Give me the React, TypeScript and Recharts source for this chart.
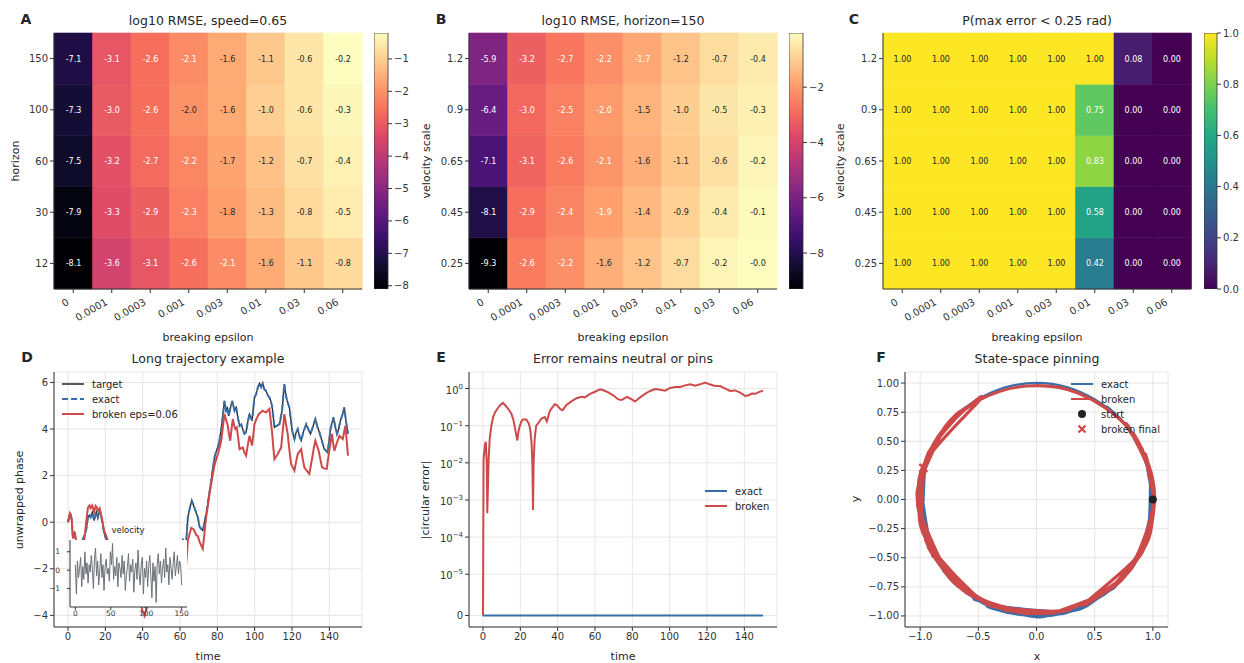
import React from "react";
import {
  Bar, BarChart, CartesianGrid, Cell, ComposedChart, LabelList, Line, LineChart, Scatter, XAxis, YAxis,
} from "recharts";

const FONT = "'DejaVu Sans', sans-serif";
const INK = "#262626";
const AXIS = "#333333";
const GRID = "#e6e6e6";
const BLUE = "#3a6ea8";
const RED = "#cd4a4a";
const GRAY = "#6b7078";

// heatmap axes
const epsLabels = ["0", "0.0001", "0.0003", "0.001", "0.003", "0.01", "0.03", "0.06"];
const horizonLabels = ["150", "100", "60", "30", "12"]; // top -> bottom
const velScaleLabels = ["1.2", "0.9", "0.65", "0.45", "0.25"]; // top -> bottom

// A: log10 RMSE, speed=0.65 (rows top -> bottom)
const rmseBySpeed = [
  [-7.1, -3.1, -2.6, -2.1, -1.6, -1.1, -0.6, -0.2],
  [-7.3, -3.0, -2.6, -2.0, -1.6, -1.0, -0.6, -0.3],
  [-7.5, -3.2, -2.7, -2.2, -1.7, -1.2, -0.7, -0.4],
  [-7.9, -3.3, -2.9, -2.3, -1.8, -1.3, -0.8, -0.5],
  [-8.1, -3.6, -3.1, -2.6, -2.1, -1.6, -1.1, -0.8],
];
// B: log10 RMSE, horizon=150
const rmseByHorizon = [
  [-5.9, -3.2, -2.7, -2.2, -1.7, -1.2, -0.7, -0.4],
  [-6.4, -3.0, -2.5, -2.0, -1.5, -1.0, -0.5, -0.3],
  [-7.1, -3.1, -2.6, -2.1, -1.6, -1.1, -0.6, -0.2],
  [-8.1, -2.9, -2.4, -1.9, -1.4, -0.9, -0.4, -0.1],
  [-9.3, -2.6, -2.2, -1.6, -1.2, -0.7, -0.2, -0.04],
];
// C: P(max error < 0.25 rad)
const pinProb = [
  [1, 1, 1, 1, 1, 1.0, 0.08, 0.0],
  [1, 1, 1, 1, 1, 0.75, 0.0, 0.0],
  [1, 1, 1, 1, 1, 0.83, 0.0, 0.0],
  [1, 1, 1, 1, 1, 0.58, 0.0, 0.0],
  [1, 1, 1, 1, 1, 0.42, 0.0, 0.0],
];

// D: unwrapped phase [time, value]
const targetPhase: [number, number][] = [
  [0, 0], [1, 0.36], [1.5, 0.3], [2, 0.1], [2.3, -0.3], [2.7, -0.68], [3.6, -0.49], [4.5, -0.85], [5.4, -1.15],
  [6.5, -1.35], [7.2, -1.05], [8, -0.71], [8.9, -0.55], [9.8, -0.3], [10.7, 0.22], [11.5, 0.3], [12.1, 0.21],
  [13, 0.43], [13.4, 0.3], [14, 0.07], [14.8, 0.35], [15.2, 0.45], [16, 0.2], [17, 0.5], [18.2, 0.1],
  [19.3, -0.45], [20.5, -0.75], [22, -1.1], [24, -1.5], [26, -1.3], [26.8, -1.4], [28, -1.9], [30, -2.2],
  [32, -1.9], [34, -2.4], [36, -2.7], [38, -2.9], [40, -3.45], [41, -3.6], [42.6, -3.3], [44.7, -2.7],
  [47.4, -2.6], [50.1, -2.2], [52.8, -1.8], [55, -2.0], [57.3, -1.3], [60, -1.0], [61.5, -0.75], [62.5, -0.85],
  [63.3, -0.8], [63.8, -0.3], [64.2, 0.21], [65.3, 0.62], [66.3, 0.92], [67.3, 0.72], [68.5, 0.45], [69.6, 0.2],
  [70.5, -0.2], [71.4, -0.3], [72.2, -0.36], [73.1, 0.0], [74, 0.35], [74.9, 0.79], [75.8, 1.3], [76.7, 1.79],
  [77.6, 2.3], [78.5, 2.79], [79.4, 3.05], [80.3, 3.21], [81.2, 3.55], [82.1, 4.0], [83, 4.6], [83.4, 4.9],
  [83.8, 5.21], [84.7, 4.79], [85.4, 4.9], [86.1, 4.57], [87, 4.9], [88, 5.21], [89.2, 4.79], [90.1, 4.93],
  [91, 4.5], [91.9, 4.14], [92.8, 4.2], [93.6, 4.0], [94.5, 3.8], [95.4, 3.86], [96.3, 4.3], [97.2, 4.64],
  [98.6, 4.36], [99.2, 4.85], [99.9, 5.36], [100.8, 5.5], [101.7, 5.79], [102.6, 5.96], [103.5, 5.8],
  [104.3, 5.96], [105.2, 5.7], [106.1, 5.64], [107, 5.45], [107.9, 5.36], [108.7, 5.2], [109.4, 4.93],
  [110, 4.5], [110.6, 4.07], [112, 4.15], [113.3, 4.21], [114.7, 4.79], [115.3, 5.4], [115.9, 5.93],
  [116.6, 5.5], [117.4, 5.21], [118.6, 4.93], [119.4, 4.4], [120.1, 3.93], [121.3, 3.57], [122.2, 3.85],
  [123.1, 4.0], [124, 3.7], [124.9, 3.5], [126.2, 3.9], [127.6, 4.21], [128.7, 4.0], [129.9, 3.79],
  [131.2, 4.1], [132.5, 4.43], [133.6, 4.1], [134.7, 3.86], [136, 3.5], [137.3, 3.14], [139.1, 3.0],
  [139.9, 3.5], [140.6, 4.0], [142.2, 4.5], [143.2, 4.1], [144.1, 3.79], [145, 4.0], [145.9, 4.36], [147, 4.6],
  [148, 4.93], [149, 4.3], [150, 3.79],
];
// the exact model tracks the target to numerical precision
const exactPhase = targetPhase;
const brokenPhase: [number, number][] = [
  [0, 0], [1, 0.39], [1.5, 0.33], [2, 0.1], [2.3, -0.3], [2.7, -0.7], [3.6, -0.45], [4.5, -0.9], [5.4, -1.3],
  [6.5, -1.6], [7.2, -1.35], [8, -1.03], [8.9, -0.64], [9.8, 0.05], [10.7, 0.64], [11.5, 0.72], [12.1, 0.6],
  [13, 0.72], [13.4, 0.6], [14, 0.45], [14.8, 0.7], [15.2, 0.66], [16, 0.5], [17, 0.6], [18.2, 0.14],
  [19.3, -0.36], [20.5, -0.6], [22, -0.95], [24, -1.38], [26, -1.26], [26.8, -1.4], [28, -1.95], [30, -2.32],
  [32, -2.06], [34, -2.55], [36, -2.97], [38, -3.28], [40, -3.82], [41, -4.02], [42.6, -3.56], [44.7, -3.1],
  [47.4, -3.09], [50.1, -2.8], [52.8, -2.42], [55, -2.65], [57.3, -2.07], [60, -1.87], [61.5, -1.7],
  [62.5, -1.8], [63.3, -1.79], [63.8, -1.3], [64.2, -0.79], [65, -0.55], [66, -0.25], [67.3, -0.3],
  [68.7, -0.55], [69.6, -0.6], [70.5, -0.85], [71.4, -1.0], [72.2, -1.14], [73.1, -0.5], [73.5, -0.15],
  [74, 0.21], [74.9, 0.7], [75.8, 1.21], [76.7, 1.65], [77.6, 2.07], [78.5, 2.45], [79.4, 2.7], [80.3, 2.93],
  [81.2, 3.2], [82.1, 3.5], [83, 4.1], [83.8, 4.64], [84.7, 4.4], [85.6, 4.14], [86.3, 3.75], [86.9, 3.5],
  [87.6, 4.0], [88.3, 4.43], [89, 4.15], [89.7, 4.0], [90.4, 4.07], [91.2, 3.6], [91.9, 3.14], [93.6, 3.21],
  [94.5, 3.0], [95.4, 2.86], [96.3, 3.3], [97.2, 3.71], [98.6, 3.29], [99.3, 3.75], [99.9, 4.21], [101, 4.45],
  [102.2, 4.64], [104.3, 4.79], [106.1, 4.71], [107.9, 4.86], [108.7, 4.3], [109.4, 3.79], [110, 3.2],
  [110.6, 2.71], [112.4, 2.93], [114.2, 3.21], [115, 3.9], [115.5, 4.3], [115.9, 4.64], [116.8, 4.2],
  [117.7, 3.79], [118.6, 3.1], [119.5, 2.5], [121.3, 2.21], [122.2, 2.6], [123.1, 2.93], [124.9, 3.14],
  [125.8, 2.7], [126.6, 2.36], [128, 2.2], [129.3, 2.07], [130.9, 2.8], [131.7, 3.2], [132.5, 3.5],
  [134.3, 3.07], [135.2, 2.7], [136.1, 2.36], [137.4, 2.3], [138.6, 2.29], [139.3, 2.7], [140, 3.07],
  [140.7, 3.45], [141.4, 3.79], [142, 3.4], [142.7, 3.07], [144, 3.4], [145.4, 3.71], [147.2, 3.57],
  [148.6, 4.14], [149.3, 3.5], [150, 2.86],
];

// D inset: velocity, one sample every 1.5 time units
const velocityStep = 1.5;
const velocity = [
  0.3, -1.3, 0.5, -0.4, 0.1, 0.7, -0.9, 0.2, -0.5, 1.0,
  -0.2, 0.4, -0.7, 0.3, -0.1, 0.8, 0.1, -1.0, 0.6, 1.2,
  -0.3, 0.5, -0.8, 0.0, 0.9, -0.4, 0.3, -1.1, 0.2, 0.6,
  -0.2, 0.1, -0.6, 1.0, 0.3, 1.45, -0.5, 0.2, -0.3, 0.7,
  -0.9, 0.4, 0.1, -0.4, 0.8, -0.2, 0.5, -1.1, -0.3, 0.2,
  0.9, -0.6, 0.3, -0.1, 0.6, -1.2, 0.0, 0.4, -0.5, 1.1,
  -0.2, -0.8, 0.3, 0.7, -1.3, 0.1, -0.4, 0.5, -0.9, 0.2,
  0.8, -0.3, -1.5, 0.4, -0.6, 0.2, -1.75, 0.3, 0.9, -0.2,
  0.5, -0.7, 0.1, 0.6, -0.4, 1.2, -0.1, 0.3, -0.8, 0.7,
  0.1, -0.5, 0.4, 1.0, -0.3, 0.2, 0.8, -0.2, 0.5, 0.3, -0.8,
];

// E: |circular error| [time, value]
const exactError: [number, number][] = [[0, 0], [30, 0], [60, 0], [90, 0], [120, 0], [150, 0]];
const brokenError: [number, number][] = [
  [0, 0], [0.3, 0.012], [1, 0.03], [1.5, 0.037], [2, 0.01], [2.3, 4.4e-4], [3, 0.012], [3.6, 0.045], [4.5, 0.1],
  [5.4, 0.17], [6.5, 0.23], [8, 0.3], [9.5, 0.37], [10.7, 0.41], [12, 0.35], [13.4, 0.29], [15.2, 0.21],
  [16.2, 0.15], [17, 0.093], [18.4, 0.04], [19, 0.07], [19.6, 0.093], [20.5, 0.13], [21.4, 0.147],
  [23.2, 0.147], [24.5, 0.115], [25.3, 0.08], [26, 0.035], [26.5, 0.008], [26.8, 5.4e-4], [27.1, 0.01],
  [27.7, 0.045], [28.5, 0.1], [29.5, 0.115], [31.3, 0.156], [33.1, 0.17], [34.2, 0.13], [35.8, 0.25],
  [38.4, 0.38], [39.5, 0.36], [41.5, 0.28], [42.6, 0.26], [44.7, 0.36], [47.4, 0.45], [50.1, 0.55],
  [52.8, 0.6], [54.6, 0.58], [57.3, 0.72], [60, 0.82], [62.7, 0.96], [64.5, 0.9], [67.1, 0.79], [69.8, 0.66],
  [72.5, 0.51], [74.3, 0.49], [77, 0.6], [78.8, 0.54], [81.5, 0.45], [84.2, 0.58], [86.8, 0.72], [89.5, 0.86],
  [92.2, 0.97], [94.9, 0.93], [97.6, 0.88], [100.2, 1.04], [102.9, 1.1], [105.6, 1.1], [108.3, 1.22],
  [111, 1.3], [113.6, 1.2], [116.3, 1.3], [119, 1.45], [121.7, 1.28], [124.4, 1.17], [127.1, 1.17],
  [129.8, 1.0], [132.4, 0.86], [135.1, 0.89], [137.8, 0.78], [140.5, 0.63], [142.3, 0.66], [144.1, 0.73],
  [145.9, 0.72], [147.7, 0.8], [150, 0.88],
];

// F: broken state drifts off the unit circle slightly (x, y stretch)
const brokenRing = [1.012, 0.978];

const MAGMA = ["#000004", "#140e36", "#3b0f70", "#641a80", "#8c2981", "#b73779", "#de4968", "#f7705c", "#fe9f6d", "#fecf92", "#fcfdbf"];
const VIRIDIS = ["#440154", "#482475", "#414487", "#355f8d", "#2a788e", "#21918c", "#22a884", "#44bf70", "#7ad151", "#bddf26", "#fde725"];

function mapColor(stops: string[], t: number) {
  const u = Math.max(0, Math.min(1, t)) * (stops.length - 1);
  const i = Math.min(stops.length - 2, Math.floor(u));
  const f = u - i;
  const a = stops[i], b = stops[i + 1];
  const ch = (s: string, k: number) => parseInt(s.slice(1 + 2 * k, 3 + 2 * k), 16);
  const out = [0, 1, 2].map((k) => Math.round(ch(a, k) + (ch(b, k) - ch(a, k)) * f));
  return `rgb(${out.join(",")})`;
}

// smooth Catmull-Rom path through the points (used for the state-space trajectories)
function catmullRom(context: any) {
  let pts: number[][] = [];
  return {
    areaStart() {}, areaEnd() {},
    lineStart() { pts = []; },
    point(x: number, y: number) { pts.push([+x, +y]); },
    lineEnd() {
      if (!pts.length) return;
      context.moveTo(pts[0][0], pts[0][1]);
      for (let i = 0; i < pts.length - 1; i++) {
        const p0 = pts[i - 1] || pts[i], p1 = pts[i], p2 = pts[i + 1], p3 = pts[i + 2] || pts[i + 1];
        context.bezierCurveTo(
          p1[0] + (p2[0] - p0[0]) / 6, p1[1] + (p2[1] - p0[1]) / 6,
          p2[0] - (p3[0] - p1[0]) / 6, p2[1] - (p3[1] - p1[1]) / 6,
          p2[0], p2[1],
        );
      }
    },
  };
}

const minus = (s: string) => s.replace(/-/g, "\u2212");
const tickStyle = { fontSize: 10, fill: AXIS };

function Txt({ x, y, size = 11, bold, rotate, children }: any) {
  return (
    <div style={{
      position: "absolute", left: x, top: y, fontSize: size, fontWeight: bold ? "bold" : "normal", color: INK,
      whiteSpace: "nowrap", lineHeight: 1, transform: `translate(-50%, -50%)${rotate ? ` rotate(${rotate}deg)` : ""}`,
    }}>{children}</div>
  );
}

function EpsTick(props: any) {
  const { x, y, payload } = props;
  return (
    <g transform={`translate(${x - 3.5},${y + 9}) rotate(-30)`}>
      <text textAnchor="end" fontSize={10} fill={AXIS}>{payload.value}</text>
    </g>
  );
}

function Heatmap({ left, width, yw, values, rowLabels, cmap, vmin, vmax, white, digits }: any) {
  const n = rowLabels.length;
  const rows = Array.from({ length: n }, (_, r) => r); // r = 0 is the bottom row
  const data = epsLabels.map((eps, c) => {
    const d: any = { eps };
    rows.forEach((r) => { d[`r${r}`] = 1; d[`v${r}`] = values[n - 1 - r][c]; });
    return d;
  });
  const color = (v: number) => mapColor(cmap, (v - vmin) / (vmax - vmin));
  const label = (p: any) => {
    const vb = p.viewBox || p;
    const v = Number(p.value);
    return (
      <text x={vb.x + vb.width / 2} y={vb.y + vb.height / 2} dy={3} textAnchor="middle" fontSize={8}
        fill={white(v) ? "#ffffff" : INK}>{v.toFixed(digits)}</text>
    );
  };
  return (
    <div style={{ position: "absolute", left, top: 0 }}>
      <BarChart width={width} height={345} data={data} margin={{ top: 33, right: 10, bottom: 0, left: 0 }}
        barCategoryGap={0} barGap={0}>
        <XAxis dataKey="eps" height={56} interval={0} tick={<EpsTick />} tickSize={4}
          tickLine={{ stroke: AXIS }} axisLine={{ stroke: AXIS }} />
        <YAxis type="number" domain={[0, n]} ticks={rows.map((r) => r + 0.5)} interval={0} width={yw}
          tickFormatter={(v: number) => rowLabels[n - 1 - Math.floor(v)]} tick={tickStyle} tickSize={4}
          tickLine={{ stroke: AXIS }} axisLine={{ stroke: AXIS }} />
        {rows.map((r) => (
          <Bar key={r} dataKey={`r${r}`} stackId="h" isAnimationActive={false}>
            {data.map((d: any, c: number) => (
              <Cell key={c} fill={color(d[`v${r}`])} stroke={color(d[`v${r}`])} strokeWidth={0.6} />
            ))}
            <LabelList dataKey={`v${r}`} content={label} />
          </Bar>
        ))}
      </BarChart>
    </div>
  );
}

function Colorbar({ left, bar, cmap, vmin, vmax, ticks, fmt, id }: any) {
  const data = [{ k: "cb", span: [vmin, vmax] }];
  return (
    <div style={{ position: "absolute", left, top: 0 }}>
      <BarChart width={bar + 30} height={345} data={data} margin={{ top: 33, right: 0, bottom: 56, left: 0 }}
        barCategoryGap={0}>
        <defs>
          <linearGradient id={id} x1="0" y1="1" x2="0" y2="0">
            {cmap.map((c: string, i: number) => <stop key={i} offset={i / (cmap.length - 1)} stopColor={c} />)}
          </linearGradient>
        </defs>
        <XAxis dataKey="k" hide />
        <YAxis orientation="right" type="number" domain={[vmin, vmax]} ticks={ticks} interval={0} width={30}
          tickFormatter={fmt} tick={tickStyle} tickSize={4} tickLine={{ stroke: AXIS }} axisLine={false}
          allowDataOverflow />
        <Bar dataKey="span" fill={`url(#${id})`} stroke={AXIS} strokeWidth={0.8} isAnimationActive={false} />
      </BarChart>
    </div>
  );
}

function LegendRow({ x, y, kind, color, label }: any) {
  return (
    <div style={{ position: "absolute", left: x, top: y - 7, height: 14, display: "flex", alignItems: "center",
      whiteSpace: "nowrap", fontSize: 10, color: INK }}>
      <svg width={22} height={14} style={{ marginRight: 8, overflow: "visible" }}>
        {kind === "line" && <line x1={0} x2={22} y1={7} y2={7} stroke={color} strokeWidth={2} />}
        {kind === "thin" && <line x1={0} x2={22} y1={7} y2={7} stroke={color} strokeWidth={1.5} />}
        {kind === "dash" && <line x1={0} x2={22} y1={7} y2={7} stroke={color} strokeWidth={2} strokeDasharray="6 3" />}
        {kind === "dot" && <circle cx={11} cy={7} r={4} fill={color} />}
        {kind === "x" && <path d="M7.5 3.5 L14.5 10.5 M14.5 3.5 L7.5 10.5" stroke={color} strokeWidth={2.2} />}
      </svg>
      <span>{label}</span>
    </div>
  );
}

// symlog with linthresh 1e-5, linscale 1
const LINTHRESH = 1e-5;
const LINSPAN = 1 / 0.9;
const symlog = (v: number) => (v >= LINTHRESH ? Math.log10(v) : -5 - (1 - v / LINTHRESH) * LINSPAN);
const SYM_ZERO = symlog(0);

function PowTick(props: any) {
  const { x, y, payload } = props;
  const v = payload.value;
  if (Math.abs(v - SYM_ZERO) < 1e-6) {
    return <text x={x} y={y} dy={4} textAnchor="end" fontSize={10} fill={AXIS}>0</text>;
  }
  return (
    <text x={x} y={y} dy={5} textAnchor="end" fontSize={10} fill={AXIS}>
      <tspan>10</tspan>
      <tspan dy={-5} fontSize={7}>{minus(String(Math.round(v)))}</tspan>
    </text>
  );
}

const axisProps = { tick: tickStyle, tickSize: 4, tickLine: { stroke: AXIS }, axisLine: { stroke: AXIS }, interval: 0 as const };

export default function App() {
  const target = targetPhase.map(([t, v]) => ({ t, v }));
  const exact = exactPhase.map(([t, v]) => ({ t, v }));
  const broken = brokenPhase.map(([t, v]) => ({ t, v }));
  const vel = velocity.map((v, i) => ({ t: i * velocityStep, v }));
  const exErr = exactError.map(([t, v]) => ({ t, v: symlog(v) }));
  const brErr = brokenError.map(([t, v]) => ({ t, v: symlog(v) }));
  const exactXY = exactPhase.map(([, p]) => ({ x: Math.cos(p), y: Math.sin(p) }));
  const brokenXY = brokenPhase.map(([, p]) => ({ x: brokenRing[0] * Math.cos(p), y: brokenRing[1] * Math.sin(p) }));
  const start = [exactXY[0]];
  const final = [brokenXY[brokenXY.length - 1]];

  return (
    <div style={{ position: "absolute", left: 0, top: 0, width: 1244, height: 663, background: "#fff",
      overflow: "hidden", fontFamily: FONT }}>
      {/* Row 1: heatmaps */}
      <Heatmap left={0} width={372} yw={54} values={rmseBySpeed} rowLabels={horizonLabels} cmap={MAGMA}
        vmin={-8.1} vmax={-0.2} white={(v: number) => v <= -2.05} digits={1} />
      <Colorbar left={374} bar={14} cmap={MAGMA} vmin={-8.1} vmax={-0.2} id="cbA"
        ticks={[-8, -7, -6, -5, -4, -3, -2, -1]} fmt={(v: number) => minus(String(v))} />
      <Heatmap left={410} width={377} yw={59} values={rmseByHorizon} rowLabels={velScaleLabels} cmap={MAGMA}
        vmin={-9.3} vmax={-0.04} white={(v: number) => v <= -1.65} digits={1} />
      <Colorbar left={789} bar={14} cmap={MAGMA} vmin={-9.3} vmax={-0.04} id="cbB"
        ticks={[-8, -6, -4, -2]} fmt={(v: number) => minus(String(v))} />
      <Heatmap left={830} width={371} yw={53} values={pinProb} rowLabels={velScaleLabels} cmap={VIRIDIS}
        vmin={0} vmax={1} white={(v: number) => v < 0.9} digits={2} />
      <Colorbar left={1204} bar={13} cmap={VIRIDIS} vmin={0} vmax={1} id="cbC"
        ticks={[0, 0.2, 0.4, 0.6, 0.8, 1.0]} fmt={(v: number) => v.toFixed(1)} />

      {/* D: long trajectory */}
      <div style={{ position: "absolute", left: 0, top: 340 }}>
        <LineChart width={372} height={323} margin={{ top: 32, right: 10, bottom: 0, left: 0 }}>
          <CartesianGrid stroke={GRID} />
          <XAxis type="number" dataKey="t" domain={[-7.5, 157.5]} ticks={[0, 20, 40, 60, 80, 100, 120, 140]}
            height={36} {...axisProps} />
          <YAxis type="number" domain={[-4.5, 6.45]} ticks={[-4, -2, 0, 2, 4, 6]} width={54}
            tickFormatter={(v: number) => minus(String(v))} allowDataOverflow {...axisProps} />
          <Line data={target} dataKey="v" stroke="#222222" strokeWidth={1.3} dot={false} isAnimationActive={false} />
          <Line data={exact} dataKey="v" stroke={BLUE} strokeWidth={2} strokeDasharray="6 3" dot={false}
            isAnimationActive={false} />
          <Line data={broken} dataKey="v" stroke={RED} strokeWidth={2} dot={false} isAnimationActive={false} />
        </LineChart>
      </div>
      {/* D inset */}
      <div style={{ position: "absolute", left: 70, top: 540, width: 117, height: 67, background: "#fff" }} />
      <div style={{ position: "absolute", left: 44, top: 540 }}>
        <LineChart width={153} height={85} margin={{ top: 0, right: 10, bottom: 0, left: 0 }}>
          <XAxis type="number" dataKey="t" domain={[-7.5, 157.5]} ticks={[0, 50, 100, 150]} height={18}
            tick={{ fontSize: 7.5, fill: AXIS }} tickSize={3} tickMargin={1} tickLine={{ stroke: AXIS }}
            axisLine={{ stroke: AXIS }} interval={0} />
          <YAxis type="number" domain={[-2.0, 1.64]} ticks={[-1, 0, 1]} width={26}
            tick={{ fontSize: 7.5, fill: AXIS }} tickSize={3} tickMargin={7} tickLine={{ stroke: AXIS }}
            axisLine={{ stroke: AXIS }} interval={0} tickFormatter={(v: number) => minus(String(v))} />
          <Line data={vel} dataKey="v" stroke={GRAY} strokeWidth={1} dot={false} isAnimationActive={false} />
        </LineChart>
      </div>
      <Txt x={128} y={530} size={8.5}>velocity</Txt>

      {/* E: error */}
      <div style={{ position: "absolute", left: 410, top: 340 }}>
        <LineChart width={377} height={323} margin={{ top: 32, right: 10, bottom: 0, left: 0 }}>
          <CartesianGrid stroke={GRID} />
          <XAxis type="number" dataKey="t" domain={[-7.5, 157.5]} ticks={[0, 20, 40, 60, 80, 100, 120, 140]}
            height={36} {...axisProps} />
          <YAxis type="number" domain={[SYM_ZERO - 0.31, 0.446]} ticks={[SYM_ZERO, -5, -4, -3, -2, -1, 0]}
            width={59} {...axisProps} tick={<PowTick />} />
          <Line data={brErr} dataKey="v" stroke={RED} strokeWidth={2} dot={false} isAnimationActive={false} />
          <Line data={exErr} dataKey="v" stroke={BLUE} strokeWidth={2} dot={false} isAnimationActive={false} />
        </LineChart>
      </div>

      {/* F: state space */}
      <div style={{ position: "absolute", left: 850, top: 340 }}>
        <ComposedChart width={328} height={323} margin={{ top: 32, right: 10, bottom: 0, left: 0 }}>
          <CartesianGrid stroke={GRID} />
          <XAxis type="number" dataKey="x" domain={[-1.13, 1.13]} ticks={[-1, -0.5, 0, 0.5, 1]} height={36}
            tickFormatter={(v: number) => minus(v.toFixed(1))} allowDataOverflow {...axisProps} />
          <YAxis type="number" dataKey="y" domain={[-1.095, 1.095]}
            ticks={[-1, -0.75, -0.5, -0.25, 0, 0.25, 0.5, 0.75, 1]} width={55}
            tickFormatter={(v: number) => minus(v.toFixed(2))} allowDataOverflow {...axisProps} />
          <Line data={exactXY} dataKey="y" type={catmullRom as any} stroke={BLUE} strokeWidth={2.3} dot={false}
            isAnimationActive={false} />
          <Line data={brokenXY} dataKey="y" type={catmullRom as any} stroke={RED} strokeWidth={3.2} dot={false}
            isAnimationActive={false} />
          <Scatter data={start} fill="#222222" isAnimationActive={false}
            shape={(p: any) => <circle cx={p.cx} cy={p.cy} r={4} fill="#222222" />} />
          <Scatter data={final} fill={RED} isAnimationActive={false}
            shape={(p: any) => (
              <path d={`M${p.cx - 4} ${p.cy - 4} L${p.cx + 4} ${p.cy + 4} M${p.cx + 4} ${p.cy - 4} L${p.cx - 4} ${p.cy + 4}`}
                stroke={RED} strokeWidth={2.2} />
            )} />
        </ComposedChart>
      </div>

      {/* legends */}
      <LegendRow x={62} y={384} kind="thin" color="#222222" label="target" />
      <LegendRow x={62} y={399} kind="dash" color={BLUE} label="exact" />
      <LegendRow x={62} y={414} kind="line" color={RED} label="broken eps=0.06" />
      <LegendRow x={705} y={491} kind="line" color={BLUE} label="exact" />
      <LegendRow x={705} y={506} kind="line" color={RED} label="broken" />
      <LegendRow x={1071} y={384} kind="line" color={BLUE} label="exact" />
      <LegendRow x={1071} y={399} kind="line" color={RED} label="broken" />
      <LegendRow x={1071} y={414} kind="dot" color="#222222" label="start" />
      <LegendRow x={1071} y={429} kind="x" color={RED} label="broken final" />

      {/* titles, letters, axis labels */}
      <Txt x={26} y={19} size={14} bold>A</Txt>
      <Txt x={441} y={19} size={14} bold>B</Txt>
      <Txt x={854} y={19} size={14} bold>C</Txt>
      <Txt x={27} y={357} size={14} bold>D</Txt>
      <Txt x={441} y={357} size={14} bold>E</Txt>
      <Txt x={881} y={357} size={14} bold>F</Txt>

      <Txt x={208} y={21} size={12.5}>log10 RMSE, speed=0.65</Txt>
      <Txt x={623} y={21} size={12.5}>log10 RMSE, horizon=150</Txt>
      <Txt x={1037} y={21} size={12.5}>P(max error &lt; 0.25 rad)</Txt>
      <Txt x={208} y={359} size={12.5}>Long trajectory example</Txt>
      <Txt x={623} y={359} size={12.5}>Error remains neutral or pins</Txt>
      <Txt x={1037} y={359} size={12.5}>State-space pinning</Txt>

      <Txt x={208} y={337}>breaking epsilon</Txt>
      <Txt x={623} y={337}>breaking epsilon</Txt>
      <Txt x={1037} y={337}>breaking epsilon</Txt>
      <Txt x={15} y={161} rotate={-90}>horizon</Txt>
      <Txt x={426} y={161} rotate={-90}>velocity scale</Txt>
      <Txt x={840} y={161} rotate={-90}>velocity scale</Txt>

      <Txt x={208} y={656}>time</Txt>
      <Txt x={623} y={656}>time</Txt>
      <Txt x={1037} y={656}>x</Txt>
      <Txt x={19} y={500} rotate={-90}>unwrapped phase</Txt>
      <Txt x={425} y={500} rotate={-90}>|circular error|</Txt>
      <Txt x={855} y={499} rotate={-90}>y</Txt>
    </div>
  );
}
